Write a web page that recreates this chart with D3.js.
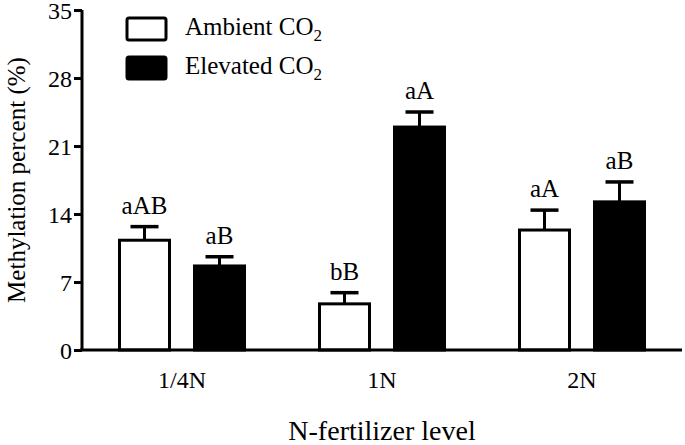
<!DOCTYPE html>
<html><head><meta charset="utf-8">
<script src="https://cdn.jsdelivr.net/npm/d3@7"></script>
<style>body{margin:0;background:#fff}svg{display:block}</style>
</head><body>
<script>
const categories = ["1/4N", "1N", "2N"];
const seriesNames = ["Ambient", "Elevated"];
const ambientValues = [11.3, 4.75, 12.35];
const elevatedValues = [8.65, 22.95, 15.25];
const ambientErrors = [1.4, 1.15, 2.05];
const elevatedErrors = [0.95, 1.55, 2.05];
const ambientLetters = ["aAB", "bB", "aA"];
const elevatedLetters = ["aB", "aA", "aB"];
const yTicks = [0, 7, 14, 21, 28, 35];

const FONT = "Liberation Serif";
const W = 685, H = 445;
const svg = d3.select("body").append("svg").attr("width", W).attr("height", H)
  .attr("font-family", FONT);

const x0 = d3.scaleBand().domain(categories).range([82, 682]).paddingInner(0).paddingOuter(0);
const x1 = d3.scaleBand().domain(seriesNames).range([0, x0.bandwidth()]).paddingInner(1/3).paddingOuter(0.5);
const y = d3.scaleLinear().domain([0, 35]).range([350, 10]);

const data = [];
categories.forEach((c, i) => {
  data.push({cat: c, s: "Ambient", v: ambientValues[i], e: ambientErrors[i], l: ambientLetters[i]});
  data.push({cat: c, s: "Elevated", v: elevatedValues[i], e: elevatedErrors[i], l: elevatedLetters[i]});
});
const fill = s => s === "Ambient" ? "#fff" : "#000";

const g = svg.append("g");
data.forEach(d => {
  const cx = x0(d.cat) + x1(d.s) + x1.bandwidth() / 2;
  g.append("line").attr("x1", cx).attr("x2", cx).attr("y1", y(d.v)).attr("y2", y(d.v + d.e))
    .attr("stroke", "#000").attr("stroke-width", 3);
  g.append("line").attr("x1", cx - 14).attr("x2", cx + 14).attr("y1", y(d.v + d.e)).attr("y2", y(d.v + d.e))
    .attr("stroke", "#000").attr("stroke-width", 3.5);
  g.append("text").attr("x", cx).attr("y", y(d.v + d.e) - 13).attr("text-anchor", "middle")
    .attr("font-family", FONT).attr("font-size", 25).text(d.l);
});
g.selectAll("rect.bar").data(data).join("rect").attr("class", "bar")
  .attr("x", d => x0(d.cat) + x1(d.s))
  .attr("width", x1.bandwidth())
  .attr("y", d => y(d.v))
  .attr("height", d => y(0) - y(d.v))
  .attr("fill", d => fill(d.s))
  .attr("stroke", "#000").attr("stroke-width", 3);

const yAxis = svg.append("g").attr("transform", "translate(82,0)")
  .call(d3.axisLeft(y).tickValues(yTicks).tickSize(8).tickPadding(2));
yAxis.attr("font-family", FONT);
yAxis.select(".domain").attr("stroke-width", 3).attr("d", `M0,${y(35)}V${y(0)}`);
yAxis.selectAll(".tick line").attr("stroke-width", 3);
yAxis.selectAll(".tick text").attr("font-size", 24).attr("font-family", FONT).attr("dy", "0.36em");

const xAxis = svg.append("g").attr("transform", "translate(0,350)")
  .call(d3.axisBottom(x0).tickSize(0).tickPadding(21));
xAxis.attr("font-family", FONT);
xAxis.select(".domain").attr("stroke-width", 3).attr("d", `M80,0H682`);
xAxis.selectAll(".tick text").attr("font-size", 24).attr("font-family", FONT).attr("dy", "0.71em");

svg.append("text").attr("transform", "translate(25,180) rotate(-90)").attr("text-anchor", "middle")
  .attr("font-family", FONT).attr("font-size", 25).text("Methylation percent (%)");
svg.append("text").attr("x", 382).attr("y", 440).attr("text-anchor", "middle")
  .attr("font-family", FONT).attr("font-size", 28).text("N-fertilizer level");

const legend = [["Ambient", "Ambient CO"], ["Elevated", "Elevated CO"]];
legend.forEach((d, i) => {
  const ly = 18 + i * 39;
  svg.append("rect").attr("x", 127).attr("y", ly).attr("width", 39).attr("height", 22).attr("rx", 2)
    .attr("fill", fill(d[0])).attr("stroke", "#000").attr("stroke-width", 3);
  const t = svg.append("text").attr("x", 185).attr("y", ly + 17).attr("font-family", FONT).attr("font-size", 25);
  t.append("tspan").text(d[1]);
  t.append("tspan").attr("font-size", 17).attr("dy", 6).text("2");
});
</script>
</body></html>
